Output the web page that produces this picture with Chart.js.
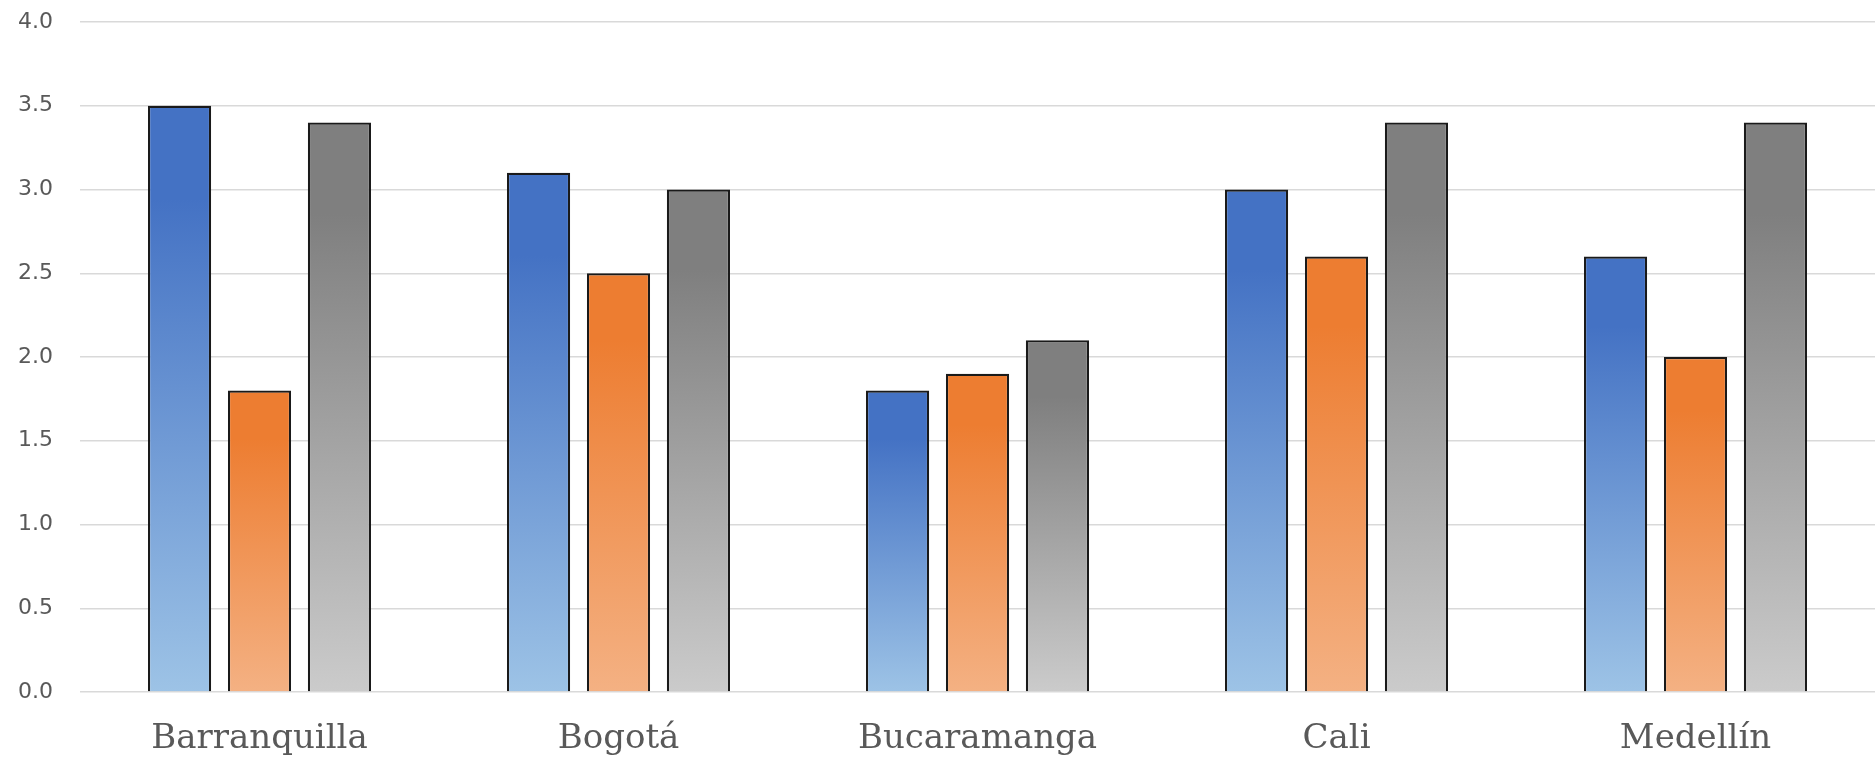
<!DOCTYPE html>
<html>
<head>
<meta charset="utf-8">
<script src="https://cdn.jsdelivr.net/npm/chart.js@4/dist/chart.umd.min.js"></script>
<style>
  html, body { margin: 0; padding: 0; background: #ffffff; }
  #wrap { width: 1875px; height: 757px; position: relative; }
</style>
</head>
<body>
<div id="wrap"><canvas id="chart"></canvas></div>
<script>
// Cities on the category axis
const cities = ['Barranquilla', 'Bogotá', 'Bucaramanga', 'Cali', 'Medellín'];

// Three series per city
const seriesA = [3.5, 3.1, 1.8, 3.0, 2.6];
const seriesB = [1.8, 2.5, 1.9, 2.6, 2.0];
const seriesC = [3.4, 3.0, 2.1, 3.4, 3.4];

// Value-axis ticks
const yTicks = [0.0, 0.5, 1.0, 1.5, 2.0, 2.5, 3.0, 3.5, 4.0];

// Top (dark) and bottom (light) colours of each bar gradient
const palette = [
  { top: '#4472C4', bottom: '#9DC3E6' },
  { top: '#ED7D31', bottom: '#F4B183' },
  { top: '#7F7F7F', bottom: '#CBCBCB' }
];

// Vertical gradient spanning the bar from its value down to zero
function barGradient(pal) {
  return function (ctx) {
    const chart = ctx.chart;
    const y = chart.scales && chart.scales.y;
    if (!chart.chartArea || !y || ctx.parsed === undefined || ctx.parsed === null) return pal.top;
    const v = ctx.parsed.y;
    const yTop = y.getPixelForValue(v);
    const yBase = y.getPixelForValue(0);
    if (!isFinite(yTop) || !isFinite(yBase) || yTop === yBase) return pal.top;
    const g = chart.ctx.createLinearGradient(0, yTop, 0, yBase);
    g.addColorStop(0, pal.top);
    g.addColorStop(0.16, pal.top);
    g.addColorStop(1, pal.bottom);
    return g;
  };
}

const values = [seriesA, seriesB, seriesC];
const datasets = values.map((vals, i) => ({
  data: vals,
  backgroundColor: barGradient(palette[i]),
  borderColor: '#1a1a1a',
  borderWidth: 2.2,
  categoryPercentage: 0.668,
  barPercentage: 0.79
}));

new Chart(document.getElementById('chart'), {
  type: 'bar',
  data: { labels: cities, datasets: datasets },
  options: {
    responsive: true,
    maintainAspectRatio: false,
    animation: false,
    layout: { padding: { top: 22, right: 0, bottom: 0, left: 0 } },
    plugins: { legend: { display: false }, tooltip: { enabled: false } },
    scales: {
      x: {
        grid: { display: false, drawTicks: false },
        border: { display: false },
        ticks: {
          color: '#595959',
          padding: 27,
          font: { family: 'DejaVu Serif', size: 34 },
          maxRotation: 0
        },
        afterFit: (scale) => {
          scale.height = 65;
          scale.paddingLeft = 0;
          scale.paddingRight = 0;
        }
      },
      y: {
        min: 0,
        max: 4,
        afterBuildTicks: (scale) => { scale.ticks = yTicks.map(v => ({ value: v })); },
        grid: { color: '#d9d9d9', lineWidth: 1.5, drawTicks: false },
        border: { display: false },
        ticks: {
          color: '#595959',
          padding: 27,
          font: { family: 'DejaVu Sans', size: 22 },
          callback: (v) => Number(v).toFixed(1)
        },
        afterFit: (scale) => {
          scale.width = 80;
          scale.paddingTop = 0;
          scale.paddingBottom = 0;
        }
      }
    }
  }
});
</script>
</body>
</html>
